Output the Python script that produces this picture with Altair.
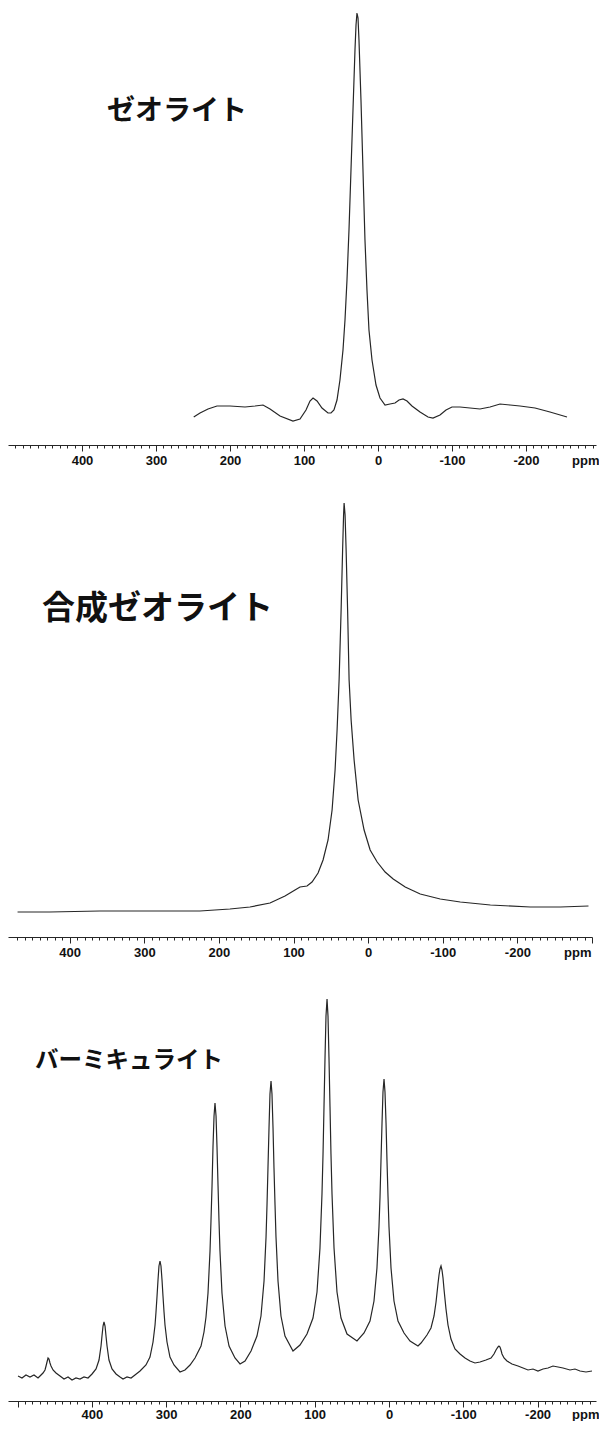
import altair as alt
import pandas as pd

# ---------------- data ----------------
# Panel 1: ゼオライト
zeo_ppm = [249, 240.5, 229.7, 217.6, 200, 179.7, 166.2, 155.4, 145.9, 132.4,
           114.9, 105.4, 97.3, 91.9, 87.8, 82.4, 75.7, 67.6, 63.5, 59.5,
           55.4, 51.4, 47.3, 44.6, 41.9, 39.2, 36.5, 33.8, 31.1, 29.7,
           28.4, 27.0, 25.7, 23.0, 20.3, 17.6, 14.9, 12.2, 8.1, 2.7,
           -2.7, -9.5, -16.2, -23.0, -28.4, -33.8, -39.2, -45.9, -56.8, -67.6,
           -74.3, -83.8, -91.9, -100, -110.8, -124.3, -137.8, -151.4, -164.9, -178.4,
           -191.9, -212.2, -232.4, -255.4]
zeo_int = [28, 32, 36, 39, 39, 38, 39, 40, 36, 29,
           24, 26, 35, 44, 47, 44, 37, 32, 32, 35,
           45, 65, 95, 125, 165, 215, 275, 335, 395, 420,
           432, 427, 405, 345, 275, 205, 155, 115, 85, 60,
           47, 40, 41, 42, 45, 46, 44, 39, 33, 28,
           27, 30, 35, 38, 38, 37, 36, 38, 41, 40,
           39, 37, 33, 28]

# Panel 2: 合成ゼオライト
syn_ppm = [469.8, 426.8, 359.7, 292.6, 225.5, 185.2, 158.4, 131.5, 111.4, 98.0,
           91.3, 81.9, 75.2, 67.1, 60.4, 53.7, 48.3, 44.3, 41.6, 38.9,
           36.2, 34.2, 32.9, 32.2, 30.9, 29.5, 27.5, 25.5, 22.8, 18.8,
           13.4, 5.4, -2.7, -12.1, -22.8, -33.6, -49.7, -69.8, -96.6, -123.5,
           -163.8, -217.4, -257.7, -295.3]
syn_int = [25, 25, 26, 26, 26, 28, 30, 34, 41, 47,
           50, 51, 55, 64, 77, 97, 127, 167, 207, 257,
           327, 387, 422, 434, 422, 387, 327, 257, 217, 177,
           137, 107, 87, 75, 65, 58, 50, 43, 38, 35,
           32, 30, 30, 31]

# Panel 3: バーミキュライト (spinning sidebands)
ver_ppm = [499.3, 494.0, 488.6, 483.2, 477.8, 472.4, 469.7, 465.7, 463.0, 461.6,
           460.3, 458.9, 457.6, 456.3, 454.9, 452.2, 448.2, 442.8, 437.4, 432.0,
           426.6, 421.3, 415.9, 410.5, 405.1, 399.7, 394.3, 390.3, 387.6, 386.3,
           384.9, 383.6, 382.2, 380.9, 379.5, 376.9, 372.8, 367.4, 362.0, 358.0,
           352.6, 347.2, 341.9, 335.1, 327.1, 321.7, 317.6, 314.9, 313.6, 312.2,
           310.9, 309.6, 308.2, 306.9, 305.5, 304.2, 302.8, 301.5, 298.8, 294.8,
           289.4, 281.3, 274.6, 267.8, 261.1, 253.0, 249.0, 246.3, 243.6, 240.9,
           239.6, 238.2, 236.9, 235.5, 234.2, 232.8, 231.5, 230.1, 228.8, 227.5,
           224.8, 220.7, 215.3, 207.3, 200.5, 193.8, 185.7, 177.7, 172.3, 168.2,
           165.5, 164.2, 162.9, 161.5, 160.2, 158.8, 157.5, 156.1, 154.8, 153.4,
           152.1, 149.4, 145.4, 140.0, 129.2, 119.8, 110.4, 102.3, 96.9, 92.9,
           90.2, 88.8, 87.5, 86.1, 84.8, 83.4, 82.1, 80.8, 79.4, 78.1,
           76.7, 74.0, 70.0, 64.6, 56.5, 43.1, 33.6, 25.6, 20.2, 16.2,
           13.5, 12.1, 10.8, 9.4, 8.1, 6.7, 5.4, 4.0, 2.7, 1.3,
           0.0, -2.7, -6.7, -12.1, -20.2, -28.3, -39.0, -43.1, -51.1, -56.5,
           -60.6, -63.3, -65.9, -67.3, -68.6, -70.0, -71.3, -72.7, -74.0, -76.7,
           -79.4, -83.4, -88.8, -95.6, -102.3, -109.0, -115.7, -122.5, -130.5, -137.3,
           -141.3, -144.0, -146.7, -148.0, -149.4, -150.7, -152.1, -154.8, -158.8, -165.5,
           -173.6, -180.4, -187.1, -193.8, -200.5, -207.3, -214.0, -220.7, -227.5, -234.2,
           -243.6, -250.3, -257.1, -265.1, -273.2]
ver_int = [25, 23, 26, 24, 26, 23, 25, 28, 31, 35,
           39, 43, 42, 38, 35, 31, 28, 25, 22, 24,
           21, 23, 22, 24, 23, 27, 32, 41, 55, 65,
           75, 79, 75, 65, 55, 41, 32, 27, 24, 22,
           24, 23, 26, 30, 36, 44, 59, 76, 89, 105,
           121, 135, 140, 135, 121, 105, 89, 76, 59, 44,
           36, 29, 31, 36, 43, 55, 69, 84, 108, 150,
           180, 215, 254, 285, 298, 285, 254, 215, 180, 150,
           108, 75, 55, 43, 37, 40, 50, 65, 85, 120,
           164, 196, 233, 273, 307, 320, 307, 273, 233, 196,
           164, 120, 85, 65, 50, 56, 67, 83, 109, 153,
           207, 247, 294, 344, 385, 402, 385, 344, 294, 247,
           207, 153, 109, 83, 67, 60, 68, 80, 100, 133,
           174, 204, 240, 278, 309, 322, 309, 278, 240, 204,
           174, 133, 100, 80, 68, 60, 55, 58, 66, 73,
           85, 99, 117, 126, 132, 135, 131, 123, 112, 92,
           76, 62, 52, 47, 43, 40, 38, 39, 41, 43,
           47, 51, 54, 55, 54, 51, 47, 43, 40, 37,
           35, 33, 31, 32, 30, 32, 33, 35, 34, 33,
           31, 32, 30, 29, 30]

titles = ["ゼオライト", "合成ゼオライト", "バーミキュライト"]
x_unit = "ppm"

INK = "#262626"


def panel(ppm, inten, xdom, width, height, ticks, title, tx, ty, tsize, ppm_x, lpad):
    df = pd.DataFrame({"ppm": ppm, "intensity": inten})
    axis = alt.Axis(
        values=ticks,
        labelExpr="(datum.value % 100 === 0 && datum.value <= 400 && datum.value >= -200) ? '' + datum.value : ''",
        labelOverlap=False,
        labelFlush=False,
        labelFont="Liberation Sans",
        labelFontWeight="bold",
        labelFontSize=13,
        labelColor="#111111",
        labelPadding=lpad,
        tickSize={"condition": {"test": "datum.value % 100 === 0", "value": 6}, "value": 3},
        tickColor=INK,
        tickWidth=1,
        domainColor=INK,
        domainWidth=1,
        grid=False,
        title=x_unit,
        titleFont="Liberation Sans",
        titleFontWeight="bold",
        titleFontSize=13,
        titleColor="#111111",
        titleX=ppm_x,
        titleY=6 + lpad,
        titleAlign="right",
        titleBaseline="top",
        titleAngle=0,
    )
    line = alt.Chart(df).mark_line(color=INK, strokeWidth=1.2).encode(
        x=alt.X("ppm:Q", scale=alt.Scale(domain=xdom, nice=False, zero=False), axis=axis),
        y=alt.Y("intensity:Q", scale=alt.Scale(domain=[0, height], nice=False, zero=False), axis=None),
    )
    label = alt.Chart(pd.DataFrame({"t": [title]})).mark_text(
        align="left", baseline="middle", font="Noto Sans CJK JP",
        fontWeight="bold", fontSize=tsize, color="#111111",
    ).encode(text="t:N", x=alt.value(tx), y=alt.value(ty))
    return alt.layer(line, label).properties(width=width, height=height)


p1 = panel(zeo_ppm, zeo_int, [500, -294.6], 588, 437,
           list(range(490, -291, -10)), titles[0], 99, 104, 28, 591, 3)
p2 = panel(syn_ppm, syn_int, [482.6, -300], 584, 452,
           list(range(470, -301, -10)), titles[1], 34, 124, 33, 583, 3)
p3 = panel(ver_ppm, ver_int, [512.8, -278.6], 588, 424,
           list(range(500, -271, -10)), titles[2], 27, 84, 23.5, 591, 1)

chart = alt.vconcat(p1, p2, p3, spacing=40, bounds="flush").properties(
    padding={"left": 0, "top": 0, "right": 0, "bottom": 0},
    background="white",
).configure_view(stroke=None)

chart.save("out.html", embed_options={"renderer": "svg", "actions": False})
